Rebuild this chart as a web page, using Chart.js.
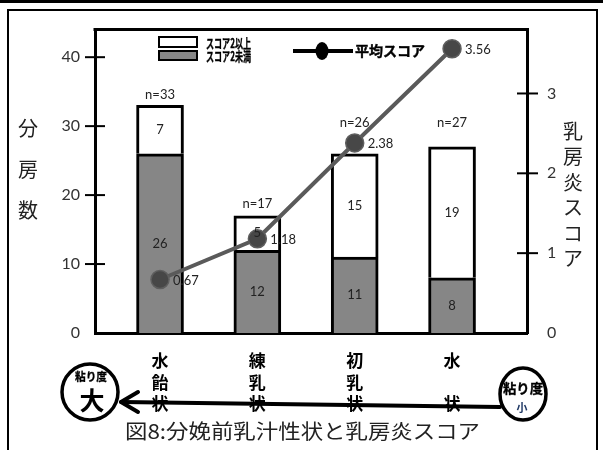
<!DOCTYPE html>
<html>
<head>
<meta charset="utf-8">
<script src="https://cdn.jsdelivr.net/npm/chart.js@4.4.1/dist/chart.umd.min.js"></script>
<style>
  html, body { margin: 0; padding: 0; background: #fff; }
  #wrap { width: 603px; height: 450px; }
</style>
</head>
<body>
<div id="wrap"><canvas id="myChart" width="603" height="450"></canvas></div>
<script>
// categories (stacked vertically under the axis)
const categories = [['水', '飴', '状'], ['練', '乳', '状'], ['初', '乳', '状'], ['水', '', '状']];
// counts per category
const scoreUnder2 = [26, 12, 11, 8];
const scoreOver2 = [7, 5, 15, 19];
const totals = scoreUnder2.map((v, i) => v + scoreOver2[i]);
// mean mastitis score per category
const meanScore = [0.67, 1.18, 2.38, 3.56];
// axis ticks
const countTicks = [0, 10, 20, 30, 40];
const scoreTicks = [0, 1, 2, 3];

const countTitle = '分房数';
const scoreTitle = '乳房炎スコア';
const caption = '図8:分娩前乳汁性状と乳房炎スコア';

// how far the n= labels sit above their bars (kept clear of the line)
const nLabelLift = [11, 12, 31, 24];

const JP = '"Noto Sans CJK JP"';

// draw text squeezed/stretched to a given width
function fitText(c, text, x, y, width, heavy) {
    const w = c.measureText(text).width;
    c.save();
    c.translate(x, y);
    c.scale(width / w, 1);
    if (heavy) {
        c.lineWidth = heavy;
        c.strokeStyle = c.fillStyle;
        c.strokeText(text, 0, 0);
    }
    c.fillText(text, 0, 0);
    c.restore();
}

function line(c, x1, y1, x2, y2) {
    c.beginPath();
    c.moveTo(x1, y1);
    c.lineTo(x2, y2);
    c.stroke();
}

const decor = {
    id: 'decor',
    beforeDraw(chart) {
        const c = chart.ctx;
        c.save();
        c.fillStyle = '#fff';
        c.fillRect(0, 0, chart.width, chart.height);
        c.restore();
    },
    afterDatasetsDraw(chart) {
        const c = chart.ctx;
        const under = chart.getDatasetMeta(0).data;
        const over = chart.getDatasetMeta(1).data;
        const points = chart.getDatasetMeta(2).data;
        c.save();
        c.font = '13px Lato';
        c.fillStyle = '#222';
        c.textAlign = 'center';
        c.textBaseline = 'middle';
        under.forEach((bar, i) => c.fillText(String(scoreUnder2[i]), bar.x, (bar.y + bar.base) / 2));
        over.forEach((bar, i) => c.fillText(String(scoreOver2[i]), bar.x, (bar.y + bar.base) / 2));
        over.forEach((bar, i) => c.fillText('n=' + totals[i], bar.x, bar.y - nLabelLift[i]));
        c.textAlign = 'left';
        points.forEach((pt, i) => c.fillText(meanScore[i].toFixed(2), pt.x + 13, pt.y + 1));
        c.restore();
    },
    afterDraw(chart) {
        const c = chart.ctx;
        const area = chart.chartArea;
        c.save();

        // page frame
        c.fillStyle = '#000';
        c.fillRect(0, 0, chart.width, 3);
        c.strokeStyle = '#000';
        c.lineWidth = 2;
        c.beginPath();
        c.moveTo(8, 460);
        c.lineTo(8, 10);
        c.lineTo(597, 10);
        c.lineTo(597, 460);
        c.stroke();

        // top edge of the plot box
        c.lineWidth = 3;
        line(c, area.left - 1.5, area.top, area.right + 1.5, area.top);

        // axis ticks crossing the axis lines
        c.lineWidth = 2;
        const yl = chart.scales.y;
        yl.ticks.forEach(t => {
            if (t.value === 0) return;
            const py = yl.getPixelForValue(t.value);
            line(c, area.left - 10, py, area.left + 10, py);
        });
        const yr = chart.scales.y1;
        yr.ticks.forEach(t => {
            if (t.value === 0) return;
            const py = yr.getPixelForValue(t.value);
            line(c, area.right - 10, py, area.right + 11, py);
        });

        // axis titles, one character per line
        c.fillStyle = '#222';
        c.font = '20px ' + JP;
        c.textAlign = 'center';
        c.textBaseline = 'middle';
        countTitle.split('').forEach((ch, i) => c.fillText(ch, 28, 128 + i * 41));
        scoreTitle.split('').forEach((ch, i) => c.fillText(ch, 573, 131 + i * 25.5));

        // legend
        c.fillStyle = '#fff';
        c.fillRect(159, 37, 38, 10);
        c.strokeStyle = '#000';
        c.lineWidth = 2;
        c.strokeRect(159, 37, 38, 10);
        c.fillStyle = '#868686';
        c.fillRect(159, 51, 38, 9);
        c.strokeRect(159, 51, 38, 9);
        c.fillStyle = '#000';
        c.font = 'bold 13px ' + JP;
        c.textAlign = 'left';
        fitText(c, chart.data.datasets[1].label, 206, 43, 45, 0.35);
        fitText(c, chart.data.datasets[0].label, 206, 56, 45, 0.35);
        c.lineWidth = 4;
        line(c, 293, 51, 353, 51);
        c.beginPath();
        c.ellipse(322, 51, 6.5, 9, 0, 0, Math.PI * 2);
        c.fill();
        c.font = 'bold 14px ' + JP;
        fitText(c, chart.data.datasets[2].label, 355, 51, 70, 0.4);

        // viscosity arrow
        c.lineCap = 'round';
        c.lineWidth = 4;
        line(c, 500, 407, 122, 402);
        line(c, 121, 402, 138, 392);
        line(c, 121, 402, 138, 412);
        c.lineWidth = 3.5;
        c.beginPath();
        c.ellipse(90, 392, 28, 28, 0, 0, Math.PI * 2);
        c.stroke();
        c.beginPath();
        c.ellipse(523, 394, 23, 26, 0, 0, Math.PI * 2);
        c.stroke();

        c.fillStyle = '#000';
        c.font = 'bold 11px ' + JP;
        c.textAlign = 'left';
        fitText(c, '粘り度', 75, 377, 32, 0.3);
        c.textAlign = 'center';
        c.font = 'bold 25px ' + JP;
        c.fillText('大', 92, 400);
        c.font = 'bold 13px ' + JP;
        c.textAlign = 'left';
        fitText(c, '粘り度', 503, 388, 40, 0.3);
        c.textAlign = 'center';
        c.fillStyle = '#1f3864';
        c.font = 'bold 11px ' + JP;
        c.fillText('小', 522, 408);

        // caption
        c.fillStyle = '#222';
        c.font = '20px ' + JP;
        c.textAlign = 'left';
        fitText(c, caption, 125, 431, 355);

        c.restore();
    }
};

const data = {
    labels: categories,
    datasets: [
        {
            type: 'bar',
            label: 'スコア2未満',
            data: scoreUnder2,
            backgroundColor: '#868686',
            borderColor: '#000',
            borderWidth: 3,
            barThickness: 47,
            yAxisID: 'y',
            order: 1
        },
        {
            type: 'bar',
            label: 'スコア2以上',
            data: scoreOver2,
            backgroundColor: '#fff',
            borderColor: '#000',
            borderWidth: 3,
            barThickness: 47,
            yAxisID: 'y',
            order: 1
        },
        {
            type: 'line',
            label: '平均スコア',
            data: meanScore,
            borderColor: '#5a5a5a',
            borderWidth: 4,
            pointRadius: 9,
            pointBackgroundColor: '#474747',
            pointBorderColor: '#5e5e5e',
            pointBorderWidth: 1.5,
            yAxisID: 'y1',
            order: 0
        }
    ]
};

const options = {
    responsive: false,
    animation: false,
    layout: { padding: { top: 29, left: 0, right: 0, bottom: 0 } },
    plugins: {
        legend: { display: false },
        tooltip: { enabled: false }
    },
    scales: {
        x: {
            stacked: true,
            afterBuildTicks: s => {
                // bars sit left of the evenly spaced slots
                s._startValue = -0.668;
                s._valueRange = 4.438;
            },
            afterFit: s => { s.height = 117; },
            grid: { display: false, drawTicks: false },
            border: { display: true, color: '#000', width: 3 },
            ticks: {
                color: '#000',
                padding: 17,
                maxRotation: 0,
                autoSkip: false,
                font: { family: 'Noto Sans CJK JP', size: 17, weight: 'bold', lineHeight: 1.27 }
            }
        },
        y: {
            position: 'left',
            stacked: true,
            min: 0,
            max: 44,
            afterBuildTicks: s => { s.ticks = countTicks.map(v => ({ value: v })); },
            afterFit: s => { s.width = 95; },
            grid: { display: false, drawTicks: false },
            border: { display: true, color: '#000', width: 3 },
            ticks: { color: '#333', padding: 15, font: { family: 'Lato', size: 16 } }
        },
        y1: {
            position: 'right',
            min: 0,
            max: 3.8,
            afterBuildTicks: s => { s.ticks = scoreTicks.map(v => ({ value: v })); },
            afterFit: s => { s.width = 76; },
            grid: { display: false, drawTicks: false },
            border: { display: true, color: '#000', width: 3 },
            ticks: { color: '#333', padding: 20, font: { family: 'Lato', size: 16 } }
        }
    }
};

const ctx = document.getElementById('myChart').getContext('2d');
const myChart = new Chart(ctx, {
    data: data,
    options: options,
    plugins: [decor]
});
</script>
</body>
</html>
